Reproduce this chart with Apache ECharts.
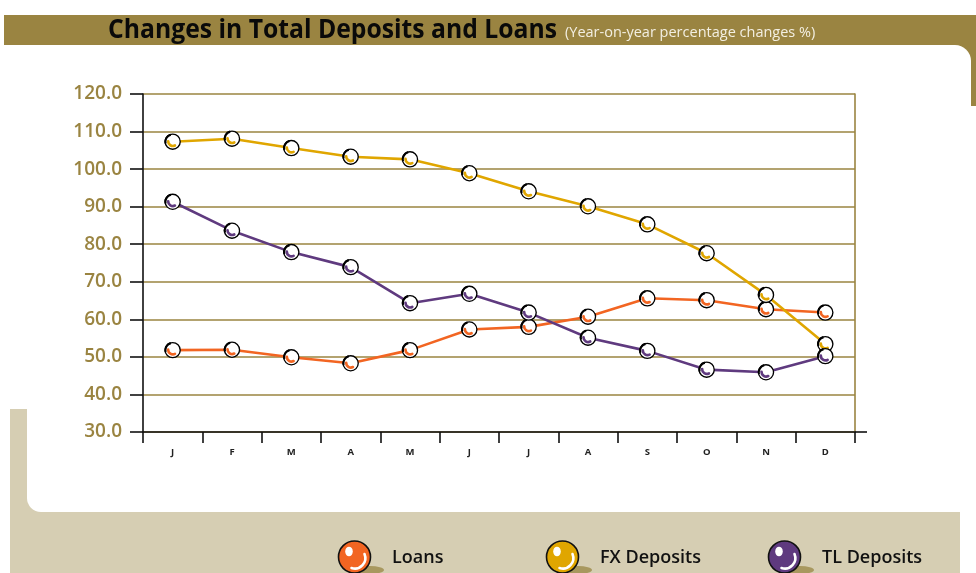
<!DOCTYPE html>
<html>
<head>
<meta charset="utf-8">
<script src="https://cdn.jsdelivr.net/npm/echarts@6/dist/echarts.min.js"></script>
<style>
  html, body { margin: 0; padding: 0; background: #ffffff; }
  #chart { width: 976px; height: 573px; }
</style>
</head>
<body>
<div id="chart"></div>
<script>
// Monthly year-on-year changes (%)
const months = ['J', 'F', 'M', 'A', 'M', 'J', 'J', 'A', 'S', 'O', 'N', 'D'];
const loans = [51.8, 51.9, 49.9, 48.3, 51.8, 57.3, 58.0, 60.7, 65.6, 65.1, 62.7, 61.8];
const fxDeposits = [107.3, 108.1, 105.6, 103.3, 102.6, 98.9, 94.1, 90.1, 85.3, 77.6, 66.5, 53.4];
const tlDeposits = [91.3, 83.6, 77.9, 73.9, 64.3, 66.8, 61.8, 55.1, 51.6, 46.6, 45.9, 50.2];
const yTicks = { min: 30, max: 120, interval: 10 };

const titleText = 'Changes in Total Deposits and Loans';
const subtitleText = '(Year-on-year percentage changes %)';

const palette = { loans: '#f26522', fx: '#e0a600', tl: '#5f3a7f' };
const olive = '#9a8441';
const beige = '#d6ceb3';

function svgUri(svg) {
  return 'image://data:image/svg+xml;charset=utf-8,' + encodeURIComponent(svg);
}

// Small white bead with a coloured crescent used for each data point
function pointSymbol(color) {
  return svgUri(
    "<svg xmlns='http://www.w3.org/2000/svg' width='20' height='20' viewBox='0 0 20 20'>" +
    "<circle cx='10' cy='10' r='8.4' fill='white' stroke='black' stroke-width='1.5'/>" +
    "<path d='M2.2 12 A8 8 0 0 1 8 2.2' fill='none' stroke='black' stroke-width='2.4'/>" +
    "<path d='M5 9.5 A5.2 5.2 0 0 0 12.5 14.2' fill='none' stroke='" + color + "' stroke-width='3' stroke-linecap='round'/>" +
    "</svg>"
  );
}

// Glossy ball with a soft shadow for the legend
function legendBall(color) {
  return svgUri(
    "<svg xmlns='http://www.w3.org/2000/svg' width='50' height='36' viewBox='0 0 50 36'>" +
    "<ellipse cx='33' cy='30' rx='14' ry='4' fill='#a8985f'/>" +
    "<circle cx='17.5' cy='17' r='16' fill='" + color + "' stroke='#111' stroke-width='1.6'/>" +
    "<ellipse cx='12' cy='11.5' rx='3.8' ry='4.8' fill='white'/>" +
    "<path d='M27.5 14 A10.5 10.5 0 0 1 14.5 28' fill='none' stroke='white' stroke-width='2.6' stroke-linecap='round'/>" +
    "</svg>"
  );
}

// Condensed look for the heading: squeeze the bold face to the target width
function squeezeFor(text, font, targetWidth) {
  const ctx = document.createElement('canvas').getContext('2d');
  ctx.font = font;
  const w = ctx.measureText(text).width;
  return w > 0 ? Math.min(1, targetWidth / w) : 1;
}

const chart = echarts.init(document.getElementById('chart'), null, { renderer: 'canvas' });

function makeSeries(name, data, color) {
  return {
    name: name,
    type: 'line',
    data: data,
    symbol: pointSymbol(color),
    symbolSize: 18,
    showAllSymbol: true,
    lineStyle: { color: color, width: 2.6 },
    itemStyle: { color: color },
    z: 5
  };
}

function makeLegend(name, color, left) {
  return {
    data: [{ name: name, icon: legendBall(color) }],
    left: left,
    top: 535,
    itemWidth: 50,
    itemHeight: 36,
    itemGap: 0,
    selectedMode: false,
    textStyle: {
      fontFamily: 'Open Sans',
      fontWeight: 600,
      fontSize: 18,
      color: '#111',
      padding: [0, 0, 0, 0]
    }
  };
}

const titleFont = 'bold 27px "Open Sans"';
const titleScale = squeezeFor(titleText, titleFont, 449);

const option = {
  animation: false,
  backgroundColor: '#ffffff',
  graphic: [
    // Olive heading band with its right-hand drop
    { type: 'rect', z: -10, shape: { x: 4, y: 15, width: 972, height: 91 }, style: { fill: olive } },
    { type: 'rect', z: -9, shape: { x: 0, y: 45, width: 971, height: 470, r: [0, 16, 0, 0] }, style: { fill: '#ffffff' } },
    // Beige footer frame
    { type: 'rect', z: -8, shape: { x: 10, y: 409, width: 950, height: 180, r: [0, 0, 0, 12] }, style: { fill: beige } },
    { type: 'rect', z: -7, shape: { x: 27, y: 300, width: 949, height: 212, r: [0, 0, 0, 14] }, style: { fill: '#ffffff' } },
    // Heading
    {
      type: 'text', z: 20, x: 108, y: 30, scaleX: titleScale, originX: 0,
      style: { text: titleText, font: titleFont, fill: '#0a0a0a', verticalAlign: 'middle', align: 'left' }
    },
    {
      type: 'text', z: 20, x: 565, y: 33,
      style: { text: subtitleText, font: '14.5px "Open Sans"', fill: '#f3efe2', verticalAlign: 'middle', align: 'left' }
    },
    // Base line continues past the plot edge
    { type: 'line', z: 10, shape: { x1: 855, y1: 432, x2: 867, y2: 432 }, style: { stroke: '#111', lineWidth: 1.6 } }
  ],
  legend: [
    makeLegend('Loans', palette.loans, 332),
    makeLegend('FX Deposits', palette.fx, 540),
    makeLegend('TL Deposits', palette.tl, 762)
  ],
  grid: { left: 143, right: 121, top: 94, bottom: 141, containLabel: false },
  xAxis: {
    type: 'category',
    data: months,
    boundaryGap: true,
    axisLine: { lineStyle: { color: '#111', width: 1.6 } },
    axisTick: { show: true, length: 11, inside: false, alignWithLabel: false, lineStyle: { color: '#111', width: 1.6 } },
    axisLabel: { margin: 15, fontFamily: 'Open Sans', fontWeight: 'bold', fontSize: 9.5, color: '#222' },
    splitLine: { show: false }
  },
  yAxis: [
    {
      type: 'value',
      min: yTicks.min,
      max: yTicks.max,
      interval: yTicks.interval,
      axisLine: { show: true, lineStyle: { color: '#111', width: 1.6 } },
      axisTick: { show: true, length: 13, inside: false, lineStyle: { color: '#111', width: 1.6 } },
      axisLabel: {
        margin: 21,
        fontFamily: 'Open Sans',
        fontWeight: 600,
        fontSize: 19,
        color: olive,
        formatter: v => v.toFixed(1)
      },
      splitLine: { show: true, lineStyle: { color: olive, width: 1.6 } }
    },
    {
      type: 'value',
      position: 'right',
      min: yTicks.min,
      max: yTicks.max,
      interval: yTicks.interval,
      axisLine: { show: true, lineStyle: { color: olive, width: 1.6 } },
      axisTick: { show: false },
      axisLabel: { show: false },
      splitLine: { show: false }
    }
  ],
  series: [
    makeSeries('Loans', loans, palette.loans),
    makeSeries('FX Deposits', fxDeposits, palette.fx),
    makeSeries('TL Deposits', tlDeposits, palette.tl)
  ]
};

chart.setOption(option);
</script>
</body>
</html>
